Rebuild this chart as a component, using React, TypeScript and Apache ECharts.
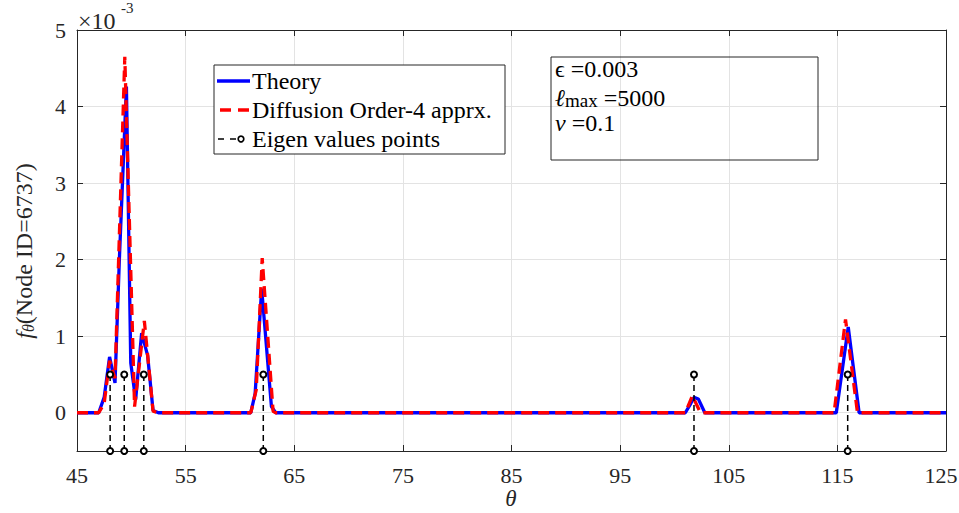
import React, { useEffect, useRef } from "react";
import * as echarts from "echarts";

// ---- data (values in units of 1e-3) ----
const theoryTheta = [45, 47, 47.5, 48, 48.5, 48.9, 49.55, 49.95, 50.4, 50.95, 51.5, 52, 52.5, 61, 61.4, 62, 62.9, 63.3, 101, 101.5, 101.8, 102.2, 102.8, 114.9, 116, 117, 125];
const theoryValues = [0, 0, 0.2, 0.73, 0.39, 2.0, 4.26, 0.65, 0.17, 1.04, 0.75, 0.03, 0, 0, 0.25, 1.62, 0.08, 0, 0, 0.12, 0.2, 0.18, 0, 0, 1.12, 0, 0];

const approxTheta = [45, 47, 47.5, 48, 48.5, 49.4, 50.3, 51.2, 52, 52.5, 61, 61.5, 62.05, 63.05, 63.3, 101, 101.65, 102.4, 114.7, 115.75, 116.85, 125];
const approxValues = [0, 0, 0.12, 0.68, 0.45, 4.65, 0.08, 1.2, 0.02, 0, 0, 0.3, 2.02, 0.02, 0, 0, 0.22, 0, 0, 1.22, 0, 0];

const eigenThetas = [48.05, 49.35, 51.15, 62.15, 101.8, 115.95];
const stemTop = 0.5;
const stemBottom = -0.5;

const xTicks = [45, 55, 65, 75, 85, 95, 105, 115, 125];
const yTicks = [0, 1, 2, 3, 4, 5];

const FONT = "'Liberation Serif', 'DejaVu Serif', serif";
const AX = "#262626";
const GRIDC = "#e3e3e3";

const txt = (x: number, y: number, text: string, size: number, extra: any = {}) => ({
  type: "text",
  x,
  y,
  z: 101,
  style: { text, fontFamily: FONT, fontSize: size, fill: "#000", verticalAlign: "middle", ...extra },
});

export default function App() {
  const ref = useRef<HTMLDivElement>(null);
  useEffect(() => {
    if (!ref.current) return;
    const chart = echarts.init(ref.current, null, { renderer: "svg" });

    const theoryData = theoryTheta.map((t, i) => [t, theoryValues[i]]);
    const approxData = approxTheta.map((t, i) => [t, approxValues[i]]);

    const stemSeries = eigenThetas.map((t) => ({
      type: "line",
      data: [[t, stemBottom], [t, stemTop]],
      symbol: "emptyCircle",
      symbolSize: 6,
      showSymbol: true,
      clip: false,
      z: 5,
      itemStyle: { color: "#000", borderWidth: 1.7 },
      lineStyle: { color: "#000", width: 1.5, type: [6, 4] },
      silent: true,
    }));

    const baseX = {
      type: "value",
      min: 45,
      max: 125,
      axisLine: { show: true, onZero: false, lineStyle: { color: AX, width: 1 } },
    };
    const baseY = {
      type: "value",
      min: -0.5,
      max: 5,
      axisLine: { show: true, onZero: false, lineStyle: { color: AX, width: 1 } },
    };

    chart.setOption({
      animation: false,
      grid: { left: 77, right: 13, top: 30, bottom: 62, containLabel: false, outerBoundsMode: "none" },
      xAxis: [
        {
          ...baseX,
          position: "bottom",
          axisTick: { show: true, inside: true, length: 6, customValues: xTicks, lineStyle: { color: AX } },
          axisLabel: {
            show: true,
            customValues: xTicks,
            margin: 13,
            color: AX,
            fontSize: 22,
            fontFamily: FONT,
            formatter: (v: number) => (v === 125 ? "{e|125}" : String(v)),
            rich: { e: { fontSize: 22, fontFamily: FONT, color: AX, padding: [0, 10, 0, 0] } },
          },
          splitLine: { show: true, lineStyle: { color: GRIDC, width: 1 } },
        },
        {
          ...baseX,
          position: "top",
          axisTick: { show: true, inside: true, length: 6, customValues: xTicks, lineStyle: { color: AX } },
          axisLabel: { show: false },
          splitLine: { show: false },
        },
      ],
      yAxis: [
        {
          ...baseY,
          position: "left",
          axisTick: { show: true, inside: true, length: 6, customValues: yTicks, lineStyle: { color: AX } },
          axisLabel: {
            show: true,
            customValues: yTicks,
            margin: 11,
            color: AX,
            fontSize: 22,
            fontFamily: FONT,
          },
          splitLine: { show: true, lineStyle: { color: GRIDC, width: 1 } },
        },
        {
          ...baseY,
          position: "right",
          axisTick: { show: true, inside: true, length: 6, customValues: yTicks, lineStyle: { color: AX } },
          axisLabel: { show: false },
          splitLine: { show: false },
        },
      ],
      series: [
        {
          type: "line",
          data: theoryData,
          symbol: "none",
          z: 3,
          lineStyle: { color: "#0000ff", width: 3.3 },
          silent: true,
        },
        {
          type: "line",
          data: approxData,
          symbol: "none",
          z: 4,
          lineStyle: { color: "#ff0000", width: 3.3, type: [11, 6] },
          silent: true,
        },
        ...stemSeries,
      ],
      graphic: [
        // x10^-3 multiplier
        txt(78, 21, "×10", 24, { fill: AX }),
        txt(121, 8, "-3", 15, { fill: AX }),
        // x axis name
        txt(511, 498, "θ", 23, { fill: AX, fontStyle: "italic", align: "center" }),
        // y axis name
        {
          type: "text",
          x: 22,
          y: 251,
          rotation: Math.PI / 2,
          z: 100,
          style: {
            text: "{f|f}{s|θ}{n|(Node ID=6737)}",
            align: "center",
            verticalAlign: "middle",
            fill: AX,
            rich: {
              f: { fontFamily: FONT, fontSize: 24, fontStyle: "italic", fill: AX, lineHeight: 28, verticalAlign: "bottom" },
              s: { fontFamily: FONT, fontSize: 16, fontStyle: "italic", fill: AX, lineHeight: 22, verticalAlign: "bottom" },
              n: { fontFamily: FONT, fontSize: 24, fill: AX, lineHeight: 28, verticalAlign: "bottom" },
            },
          },
        },
        // legend
        {
          type: "rect",
          z: 100,
          shape: { x: 214, y: 65, width: 291, height: 89 },
          style: { fill: "#ffffff", stroke: AX, lineWidth: 1 },
        },
        {
          type: "line",
          z: 101,
          shape: { x1: 217, y1: 81, x2: 250, y2: 81 },
          style: { stroke: "#0000ff", lineWidth: 3.3 },
        },
        {
          type: "line",
          z: 101,
          shape: { x1: 220, y1: 110, x2: 249, y2: 110 },
          style: { stroke: "#ff0000", lineWidth: 3.3, lineDash: [11, 7] },
        },
        {
          type: "line",
          z: 101,
          shape: { x1: 218, y1: 139, x2: 237, y2: 139 },
          style: { stroke: "#000", lineWidth: 1.6, lineDash: [6, 6] },
        },
        {
          type: "circle",
          z: 102,
          shape: { cx: 241, cy: 139, r: 2.8 },
          style: { fill: "#fff", stroke: "#000", lineWidth: 1.7 },
        },
        txt(252, 81, "Theory", 24),
        txt(252, 110, "Diffusion Order-4 apprx.", 24),
        txt(252, 139, "Eigen values points", 24),
        // parameter box (transparent)
        {
          type: "rect",
          z: 100,
          shape: { x: 551, y: 57, width: 267, height: 103 },
          style: { fill: "none", stroke: AX, lineWidth: 1 },
        },
        txt(555, 69, "ϵ =0.003", 24),
        {
          type: "text",
          z: 101,
          x: 555,
          y: 96,
          style: {
            text: "{l|ℓ}{m|max}{n| =5000}",
            fill: "#000",
            verticalAlign: "middle",
            rich: {
              l: { fontFamily: FONT, fontSize: 24, fontStyle: "italic", fill: "#000", lineHeight: 28, verticalAlign: "bottom" },
              m: { fontFamily: FONT, fontSize: 19, fill: "#000", lineHeight: 24, verticalAlign: "bottom" },
              n: { fontFamily: FONT, fontSize: 24, fill: "#000", lineHeight: 28, verticalAlign: "bottom" },
            },
          },
        },
        {
          type: "text",
          z: 101,
          x: 555,
          y: 123,
          style: {
            text: "{v|v}{n| =0.1}",
            fill: "#000",
            verticalAlign: "middle",
            rich: {
              v: { fontFamily: FONT, fontSize: 24, fontStyle: "italic", fill: "#000", lineHeight: 28 },
              n: { fontFamily: FONT, fontSize: 24, fill: "#000", lineHeight: 28 },
            },
          },
        },
      ],
    });
    return () => chart.dispose();
  }, []);
  return <div ref={ref} style={{ width: 959, height: 513, position: "absolute", left: 0, top: 0 }} />;
}
